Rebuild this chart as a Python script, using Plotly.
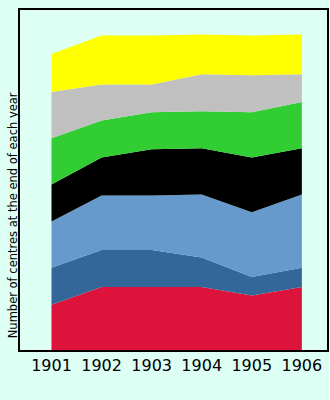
import plotly.graph_objects as go

years = [1901, 1902, 1903, 1904, 1905, 1906]

# Stacked series, bottom to top
red_vals = [4.9, 6.8, 6.8, 6.8, 5.9, 6.8]
darkblue_vals = [4.0, 4.0, 4.0, 3.2, 2.0, 2.1]
lightblue_vals = [5.0, 5.9, 5.9, 6.8, 7.0, 7.9]
black_vals = [4.0, 4.1, 5.0, 5.0, 5.9, 5.0]
green_vals = [5.0, 4.0, 4.0, 4.0, 4.9, 5.0]
grey_vals = [5.0, 3.9, 3.0, 4.0, 4.0, 3.0]
yellow_vals = [4.1, 5.3, 5.3, 4.3, 4.3, 4.3]

series = [
    ("red", red_vals, "#DC143C"),
    ("dark blue", darkblue_vals, "#336699"),
    ("light blue", lightblue_vals, "#6699CC"),
    ("black", black_vals, "#000000"),
    ("green", green_vals, "#32CD32"),
    ("grey", grey_vals, "#C0C0C0"),
    ("yellow", yellow_vals, "#FFFF00"),
]

bg = "#DEFFF4"

fig = go.Figure()
for name, vals, color in series:
    fig.add_trace(go.Scatter(
        x=years, y=vals, name=name, mode="none",
        stackgroup="one", fillcolor=color, line=dict(width=0),
        hoverinfo="x+y",
    ))

fig.update_layout(
    width=330, height=400,
    autosize=False,
    margin=dict(l=20, r=1, t=10, b=50),
    paper_bgcolor=bg, plot_bgcolor=bg,
    showlegend=False,
    font=dict(family="DejaVu Sans", color="black"),
)
fig.update_xaxes(
    range=[1900.371, 1906.502],
    tickvals=years, ticktext=[str(y) for y in years],
    tickfont=dict(size=16, family="DejaVu Sans", color="black"),
    showgrid=False, zeroline=False, ticks="",
    showline=True, linecolor="black", linewidth=2, mirror=True,
)
fig.update_yaxes(
    range=[0, 36.76],
    showticklabels=False, showgrid=False, zeroline=False, ticks="",
    showline=True, linecolor="black", linewidth=2, mirror=True,
)
fig.add_annotation(
    text="Number of centres at the end of each year",
    xref="paper", yref="paper",
    x=-0.022, y=0.397, xanchor="center", yanchor="middle",
    textangle=-90, showarrow=False,
    font=dict(size=11.5, family="DejaVu Sans", color="black"),
)

fig.write_html("out.html", config={"displayModeBar": False})
